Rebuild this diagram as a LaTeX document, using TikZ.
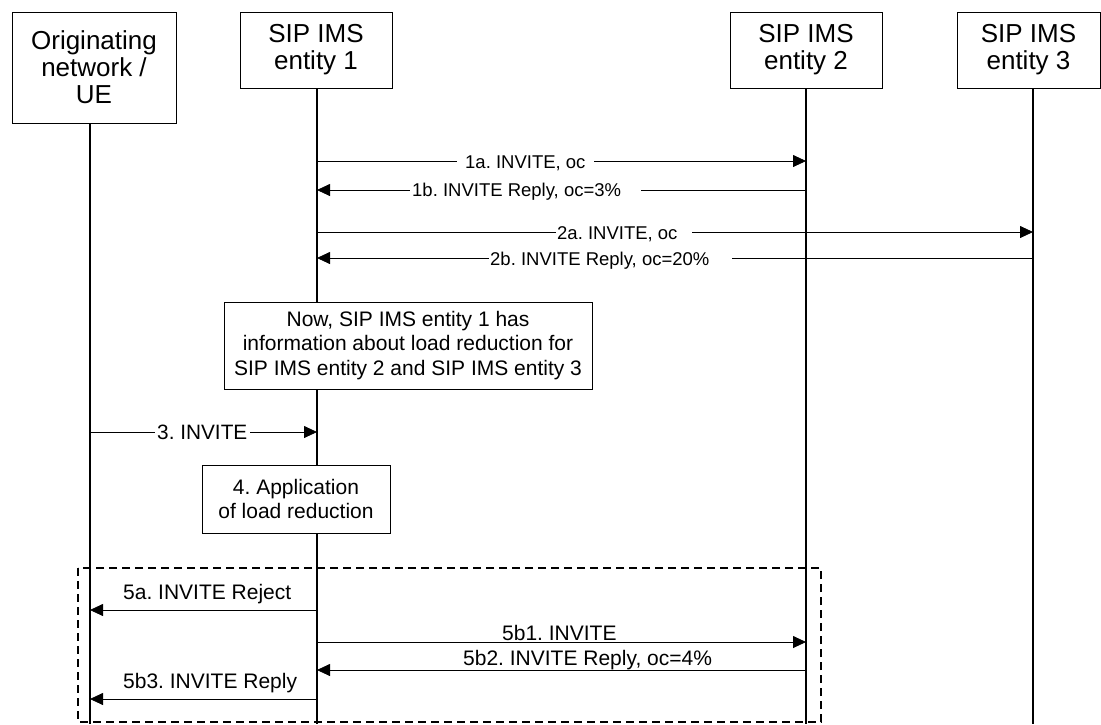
\documentclass[tikz,border=0pt]{standalone}
\usepackage{fontspec}
\setmainfont{Liberation Sans}
\usetikzlibrary{arrows.meta}
\frenchspacing
\begin{document}
\begin{tikzpicture}[x=1pt,y=-1pt,
  hdr/.style={draw, line width=1pt, align=center, inner sep=0pt,
    font=\fontsize{26}{27}\selectfont},
  life/.style={line width=2pt},
  msg/.style={line width=0.8pt, -{Triangle[length=13pt,width=12pt]}},
  lblon/.style={fill=white, inner sep=0pt, anchor=base west,
    font=\fontsize{18.5}{20}\selectfont},
  lblab/.style={inner sep=0pt, anchor=base west,
    font=\fontsize{21}{24}\selectfont},
  note/.style={draw, fill=white, line width=1pt, align=center, inner sep=0pt,
    font=\fontsize{21}{24.5}\selectfont},
  grp/.style={draw, line width=1.4pt, dash pattern=on 8pt off 5pt}
]
\useasboundingbox (0,0) rectangle (1101,724);

% header boxes
\node[hdr, minimum width=164, minimum height=111] (orig) at (94,67.5) {Originating\\network /\\UE};
\node[hdr, minimum width=152, minimum height=76] (e1) at (316,50) {SIP IMS\\entity 1};
\node[hdr, minimum width=152, minimum height=76] (e2) at (806,50) {SIP IMS\\entity 2};
\node[hdr, minimum width=143, minimum height=76] (e3) at (1028.5,50) {SIP IMS\\entity 3};

% lifeline ends
\coordinate (b0) at (90,724);
\coordinate (b1) at (317,724);
\coordinate (b2) at (806,724);
\coordinate (b3) at (1033,724);

\draw[life] (orig.south -| b0) -- (b0);
\draw[life] (e1.south -| b1) -- (b1);
\draw[life] (e2.south -| b2) -- (b2);
\draw[life] (e3.south -| b3) -- (b3);

% message rows
\coordinate (r1a) at (0,161);
\coordinate (r1b) at (0,190);
\coordinate (r2a) at (0,232);
\coordinate (r2b) at (0,258);
\coordinate (r3) at (0,432);
\coordinate (r5a) at (0,610);
\coordinate (r5b1) at (0,642);
\coordinate (r5b2) at (0,670);
\coordinate (r5b3) at (0,699);

\draw[msg] (b1 |- r1a) -- (b2 |- r1a);
\node[lblon] (t1a) at (457,168) {\hspace*{8pt}1a. INVITE, oc\hspace*{8pt}};

\draw[msg] (b2 |- r1b) -- (b1 |- r1b);
\node[lblon] (t1b) at (410,196.5) {\hspace*{2pt}1b. INVITE Reply, oc=3\%\hspace*{20pt}};

\draw[msg] (b1 |- r2a) -- (b3 |- r2a);
\node[lblon] (t2a) at (556,239) {\hspace*{1pt}2a. INVITE, oc\hspace*{14pt}};

\draw[msg] (b3 |- r2b) -- (b1 |- r2b);
\node[lblon] (t2b) at (489,265) {\hspace*{1pt}2b. INVITE Reply, oc=20\%\hspace*{23pt}};

% note box
\node[note, minimum width=368, minimum height=87] (n1) at (408,345.5)
  {Now, SIP IMS entity 1 has\\information about load reduction for\\SIP IMS entity 2 and SIP IMS entity 3};

\draw[msg] (b0 |- r3) -- (b1 |- r3);
\node[lblon, font=\fontsize{20.8}{22}\selectfont] (t3) at (155,439.5) {\hspace*{2pt}3. INVITE\hspace*{3pt}};

\node[note, minimum width=188, minimum height=68, font=\fontsize{21}{23.5}\selectfont] (n4) at (296,499)
  {4. Application\\of load reduction};

% group box
\coordinate (g1) at (78,568);
\coordinate (g2) at (821,722);
\draw[grp] (g1) rectangle (g2);

\draw[msg] (b1 |- r5a) -- (b0 |- r5a);
\node[lblab] (t5a) at (123,599) {5a. INVITE Reject};

\draw[msg] (b1 |- r5b1) -- (b2 |- r5b1);
\node[lblab] (t5b1) at (502,640) {5b1. INVITE};

\draw[msg] (b2 |- r5b2) -- (b1 |- r5b2);
\node[lblab] (t5b2) at (463,665) {5b2. INVITE Reply, oc=4\%};

\draw[msg] (b1 |- r5b3) -- (b0 |- r5b3);
\node[lblab] (t5b3) at (123,688) {5b3. INVITE Reply};
\end{tikzpicture}
\end{document}
